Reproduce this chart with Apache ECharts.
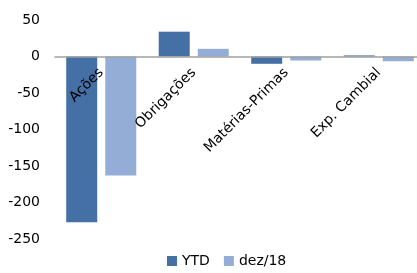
<!DOCTYPE html>
<html><head><meta charset="utf-8">
<script src="https://cdn.jsdelivr.net/npm/echarts@6/dist/echarts.min.js"></script>
<style>html,body{margin:0;padding:0;background:#fff}#c{width:417px;height:273px}</style>
</head><body><div id="c"></div>
<script>
const categories = ['Ações', 'Obrigações', 'Matérias-Primas', 'Exp. Cambial'];
const ytd = [-227, 34, -10, 1.5];
const dez18 = [-163, 10.5, -5.5, -6.5];
const seriesNames = ['YTD', 'dez/18'];
const FONT = 'DejaVu Sans';
const chart = echarts.init(document.getElementById('c'), null, {renderer: 'canvas'});
chart.setOption({
  animation: false,
  textStyle: {fontFamily: FONT},
  grid: {left: 55, right: -8, top: 20, bottom: 34, containLabel: false, outerBoundsMode: 'none'},
  legend: {
    bottom: 0, left: 162, itemWidth: 10, itemHeight: 10, itemGap: 14,
    textStyle: {fontFamily: FONT, fontSize: 14, color: '#000'},
    icon: 'rect',
    data: seriesNames
  },
  xAxis: {
    type: 'category', data: categories, position: 'bottom', offset: -182.5, z: 5,
    axisLine: {onZero: false, lineStyle: {color: '#a0a0a0', width: 1.5}},
    axisTick: {show: false},
    axisLabel: {rotate: 45, margin: 14, fontFamily: FONT, fontSize: 14, color: '#000', interval: 0}
  },
  yAxis: {
    type: 'value', min: -250, max: 50, interval: 50,
    axisLine: {show: false}, axisTick: {show: false}, splitLine: {show: false},
    axisLabel: {fontFamily: FONT, fontSize: 14, color: '#000', margin: 15}
  },
  series: [
    {name: seriesNames[0], type: 'bar', data: ytd, barWidth: 31, barGap: '26%', itemStyle: {color: '#4470A6'}},
    {name: seriesNames[1], type: 'bar', data: dez18, barWidth: 31, itemStyle: {color: '#94ADD6'}}
  ]
});
</script></body></html>
